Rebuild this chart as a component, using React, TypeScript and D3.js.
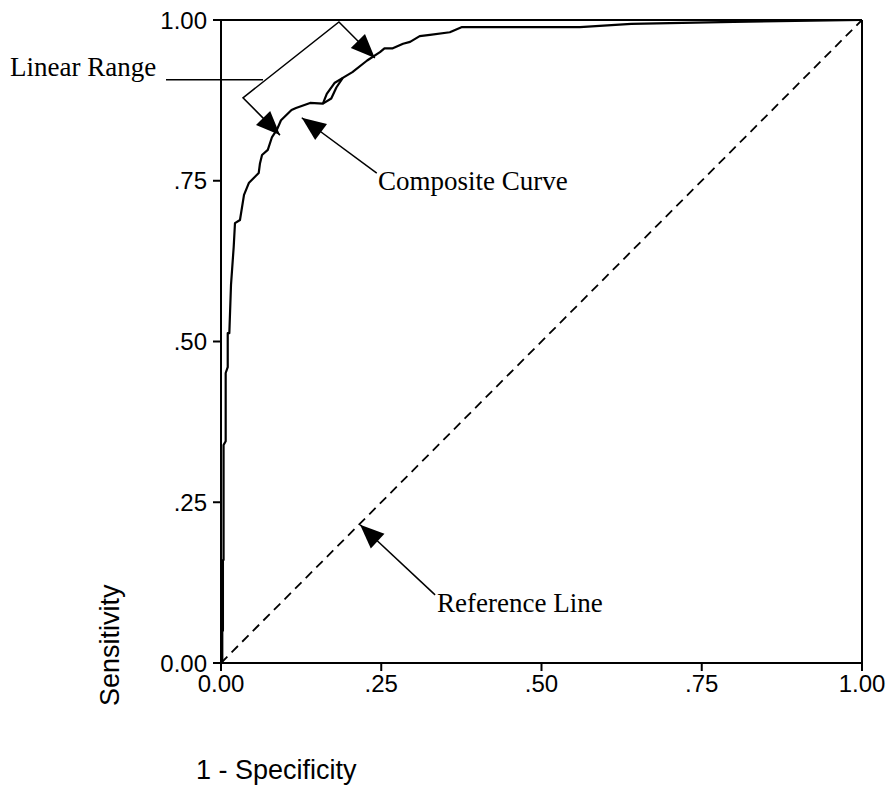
import React from "react";
import * as d3 from "d3";

// ROC composite curve (1 - specificity, sensitivity)
const rocX = [0, 0.002, 0.002, 0.003, 0.003, 0.004, 0.004, 0.0073, 0.0073, 0.0105, 0.0105, 0.013, 0.0156, 0.0198, 0.0218, 0.0296, 0.0359, 0.0437, 0.0588, 0.0608, 0.064, 0.073, 0.0796, 0.087, 0.0936, 0.11, 0.117, 0.139, 0.159, 0.165, 0.177, 0.19, 0.205, 0.228, 0.248, 0.255, 0.268, 0.284, 0.295, 0.31, 0.326, 0.357, 0.376, 0.56, 0.64, 0.8, 1.0];
const rocY = [0, 0, 0.05, 0.05, 0.16, 0.16, 0.339, 0.345, 0.451, 0.46, 0.513, 0.513, 0.588, 0.647, 0.684, 0.689, 0.728, 0.747, 0.762, 0.777, 0.79, 0.798, 0.818, 0.829, 0.844, 0.86, 0.863, 0.871, 0.87, 0.885, 0.902, 0.91, 0.919, 0.937, 0.95, 0.956, 0.956, 0.963, 0.966, 0.975, 0.977, 0.981, 0.989, 0.989, 0.994, 0.997, 1.0];
// second branch of the composite curve (small loop)
const loopX = [0.159, 0.172, 0.18, 0.19];
const loopY = [0.87, 0.878, 0.895, 0.91];
// reference line
const refX = [0, 1];
const refY = [0, 1];

const xTicks = [0, 0.25, 0.5, 0.75, 1];
const xTickLabels = ["0.00", ".25", ".50", ".75", "1.00"];
const yTicks = [0, 0.25, 0.5, 0.75, 1];
const yTickLabels = ["0.00", ".25", ".50", ".75", "1.00"];

const W = 892;
const H = 787;
const left = 221;
const right = 862;
const top = 20;
const bottom = 663;

const serif = "'Liberation Serif', 'Times New Roman', serif";
const sans = "'Liberation Sans', Arial, sans-serif";

export default function App() {
  const x = d3.scaleLinear().domain([0, 1]).range([left, right]);
  const y = d3.scaleLinear().domain([0, 1]).range([bottom, top]);

  const line = d3
    .line<[number, number]>()
    .x((d) => x(d[0]))
    .y((d) => y(d[1]));

  const rocPts = rocX.map((v, i) => [v, rocY[i]] as [number, number]);
  const loopPts = loopX.map((v, i) => [v, loopY[i]] as [number, number]);
  const refPts = refX.map((v, i) => [v, refY[i]] as [number, number]);

  const arrowHead = (fx: number, fy: number, tx: number, ty: number) => {
    const x1 = x(fx), y1 = y(fy), x2 = x(tx), y2 = y(ty);
    const dx = x2 - x1, dy = y2 - y1;
    const len = Math.hypot(dx, dy);
    const ux = dx / len, uy = dy / len;
    const L = 24, Wd = 10;
    const bx = x2 - ux * L, by = y2 - uy * L;
    const nx = -uy, ny = ux;
    return `${x2},${y2} ${bx + nx * Wd},${by + ny * Wd} ${bx - nx * Wd},${by - ny * Wd}`;
  };

  // annotations in data coordinates
  const bracketA = [0.0343, 0.879];
  const bracketB = [0.184, 0.997];
  const tipA = [0.092, 0.821];
  const tipB = [0.24, 0.941];
  const compTail = [0.243, 0.762];
  const compTip = [0.126, 0.848];
  const refTail = [0.334, 0.106];
  const refTip = [0.217, 0.215];

  return (
    <svg
      width={W}
      height={H}
      style={{ position: "absolute", left: 0, top: 0, background: "#fff" }}
    >
      <rect x={0} y={0} width={W} height={H} fill="#fff" />
      {/* frame */}
      <line x1={left} y1={top} x2={right} y2={top} stroke="#000" strokeWidth={2} />
      <line x1={right} y1={top} x2={right} y2={bottom} stroke="#000" strokeWidth={2} />
      <line x1={left} y1={top} x2={left} y2={bottom + 8} stroke="#000" strokeWidth={2} />
      <line x1={left - 8} y1={bottom} x2={right} y2={bottom} stroke="#000" strokeWidth={2} />

      {/* ticks */}
      {yTicks.map((t, i) => (
        <g key={"y" + i}>
          <line x1={left - 8} x2={left} y1={y(t)} y2={y(t)} stroke="#000" strokeWidth={2} />
          <text
            x={left - 14}
            y={y(t)}
            dy="0.36em"
            textAnchor="end"
            fontFamily={sans}
            fontSize={24}
          >
            {yTickLabels[i]}
          </text>
        </g>
      ))}
      {xTicks.map((t, i) => (
        <g key={"x" + i}>
          <line x1={x(t)} x2={x(t)} y1={bottom} y2={bottom + 8} stroke="#000" strokeWidth={2} />
          <text
            x={x(t)}
            y={bottom + 29}
            textAnchor="middle"
            fontFamily={sans}
            fontSize={24}
          >
            {xTickLabels[i]}
          </text>
        </g>
      ))}

      {/* axis titles */}
      <text x={196} y={779} fontFamily={sans} fontSize={27}>
        1 - Specificity
      </text>
      <text
        transform={`translate(119,706) rotate(-90)`}
        fontFamily={sans}
        fontSize={27}
      >
        Sensitivity
      </text>

      {/* reference line */}
      <path d={line(refPts) || ""} fill="none" stroke="#000" strokeWidth={1.8} strokeDasharray="9,6" />

      {/* composite curve */}
      <path d={line(rocPts) || ""} fill="none" stroke="#000" strokeWidth={2.2} strokeLinejoin="round" />
      <path d={line(loopPts) || ""} fill="none" stroke="#000" strokeWidth={2.2} strokeLinejoin="round" />

      {/* Linear Range annotation */}
      <text x={10} y={76} fontFamily={serif} fontSize={27}>
        Linear Range
      </text>
      <line x1={166} y1={y(0.907)} x2={x(0.0655)} y2={y(0.907)} stroke="#000" strokeWidth={1.5} />
      <polyline
        points={`${x(tipA[0])},${y(tipA[1])} ${x(bracketA[0])},${y(bracketA[1])} ${x(bracketB[0])},${y(bracketB[1])} ${x(tipB[0])},${y(tipB[1])}`}
        fill="none"
        stroke="#000"
        strokeWidth={1.5}
      />
      <polygon points={arrowHead(bracketA[0], bracketA[1], tipA[0], tipA[1])} fill="#000" />
      <polygon points={arrowHead(bracketB[0], bracketB[1], tipB[0], tipB[1])} fill="#000" />

      {/* Composite Curve annotation */}
      <line x1={x(compTail[0])} y1={y(compTail[1])} x2={x(compTip[0])} y2={y(compTip[1])} stroke="#000" strokeWidth={1.5} />
      <polygon points={arrowHead(compTail[0], compTail[1], compTip[0], compTip[1])} fill="#000" />
      <text x={378} y={190} fontFamily={serif} fontSize={27}>
        Composite Curve
      </text>

      {/* Reference Line annotation */}
      <line x1={x(refTail[0])} y1={y(refTail[1])} x2={x(refTip[0])} y2={y(refTip[1])} stroke="#000" strokeWidth={1.5} />
      <polygon points={arrowHead(refTail[0], refTail[1], refTip[0], refTip[1])} fill="#000" />
      <text x={437} y={612} fontFamily={serif} fontSize={27}>
        Reference Line
      </text>
    </svg>
  );
}
